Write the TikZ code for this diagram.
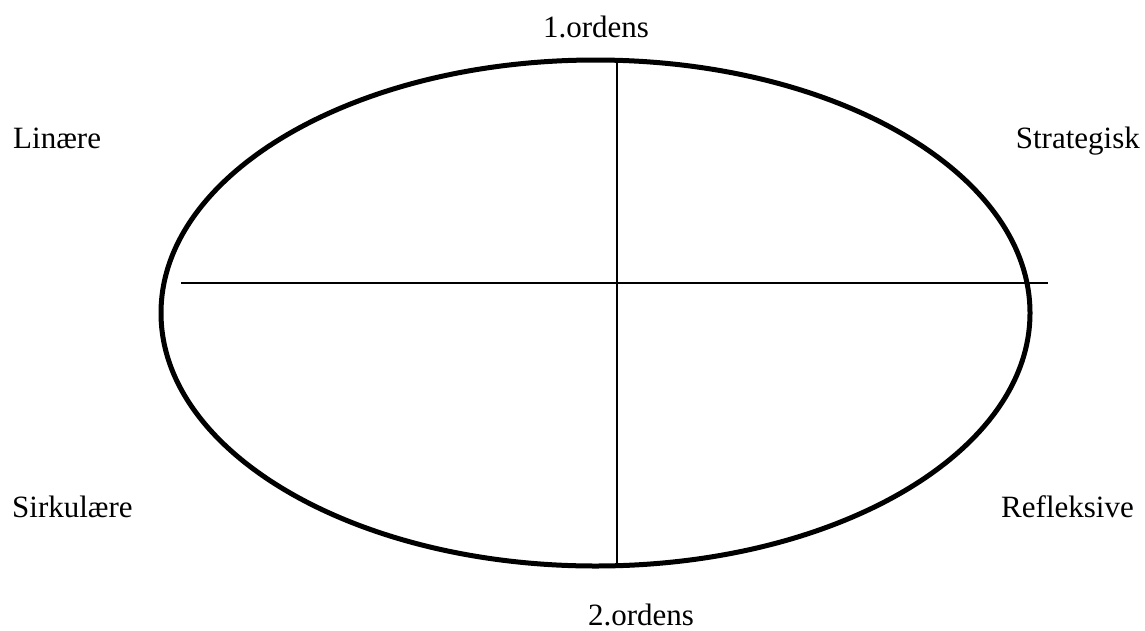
\documentclass[tikz,border=0pt]{standalone}
\usepackage{fontspec}
\setmainfont{Liberation Serif}
\usepackage{tikz}

\begin{document}
\begin{tikzpicture}[
    x=1pt, y=-1pt,
    label/.style={
        font=\fontsize{31}{37}\selectfont, inner sep=0pt
    },
    rim/.style={
        line width=5pt, draw=black
    },
    axis/.style={
        line width=1.4pt, draw=black
    }
]
\useasboundingbox (0,0) rectangle (1145,630);

% ====== ELLIPSE ======
\draw[rim] (595.5,313) ellipse [x radius=434.5, y radius=253];

% ====== AKSER ======
\coordinate (top)    at (617,60.5);
\coordinate (bottom) at (617,565.5);
\coordinate (left)   at (181,283);
\coordinate (right)  at (1048,283);
\draw[axis] (top) -- (bottom);
\draw[axis] (left) -- (right);

% ====== TEKSTER ======
\node[label, anchor=base]      (first)  at (596,37)   {1.ordens};
\node[label, anchor=base]      (second) at (641,625)  {2.ordens};
\node[label, anchor=base west] (lin)    at (13,148)   {Linære};
\node[label, anchor=base east] (strat)  at (1140,148) {Strategisk};
\node[label, anchor=base west] (sirk)   at (12,517)   {Sirkulære};
\node[label, anchor=base east] (refl)   at (1134,517) {Refleksive};

\end{tikzpicture}
\end{document}
